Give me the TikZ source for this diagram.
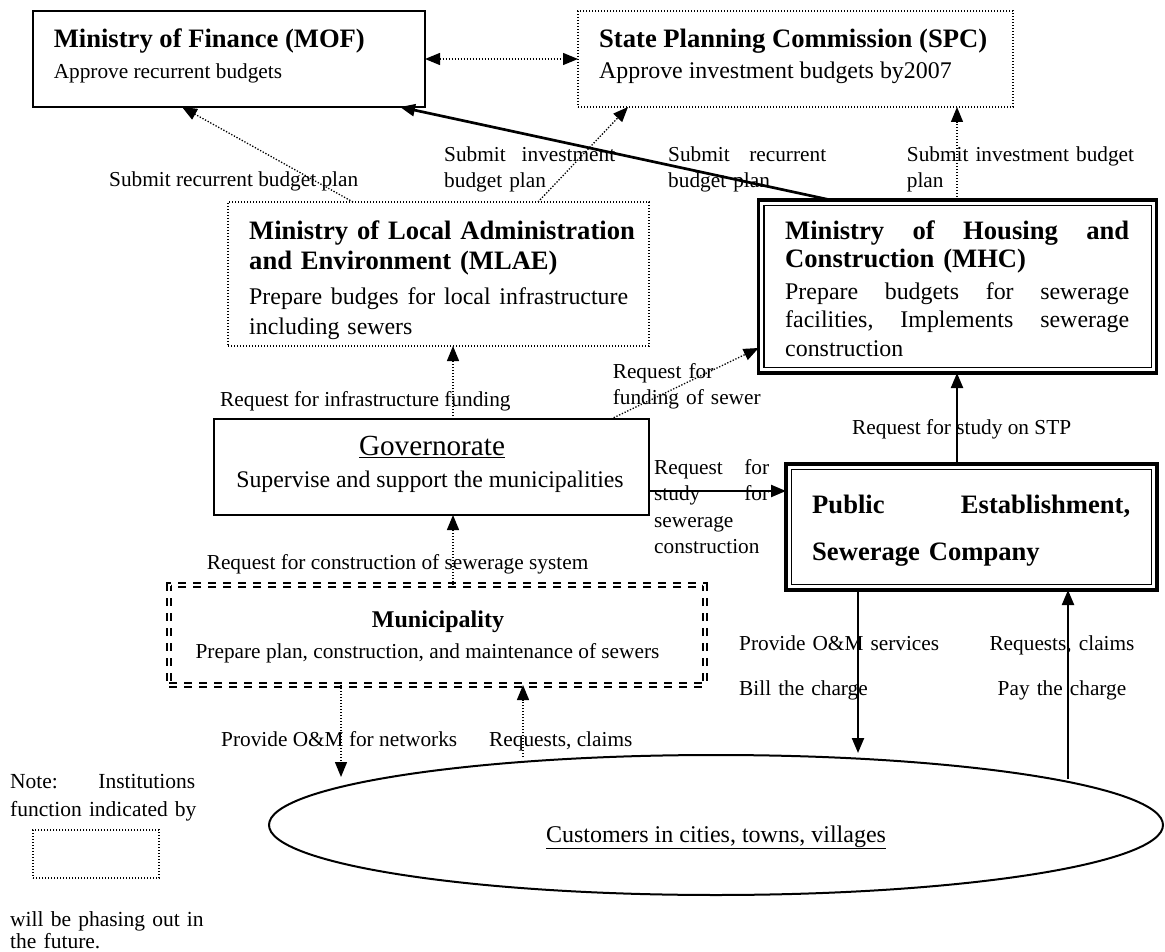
\documentclass[tikz,border=0pt]{standalone}
\usepackage{fontspec}
\setmainfont{Liberation Serif}
\usepackage{tikz}
\usetikzlibrary{arrows.meta,shapes.geometric}
\hyphenpenalty=10000

\begin{document}
\begin{tikzpicture}[x=1pt, y=-1pt,
    box/.style={rectangle, draw, line width=2pt, anchor=north west, inner sep=0pt, outer sep=0pt},
    dotbox/.style={box, line width=1.4pt, dash pattern=on 1.4pt off 1.6pt},
    thickbox/.style={box, line width=3.3pt},
    dashbox/.style={box, line width=1.7pt, double, double distance=2.3pt, dash pattern=on 8pt off 7pt},
    lbl/.style={inner sep=0pt, anchor=base west, font=\fontsize{21.3}{26.5}\selectfont},
    ttl/.style={inner sep=0pt, anchor=base west, font=\bfseries\fontsize{26.6}{30}\selectfont},
    arrow/.style={-{Triangle[length=15pt,width=12pt]}, line width=2.2pt},
    dotarrow/.style={-{Triangle[length=15pt,width=12pt]}, line width=1.3pt, dash pattern=on 1.3pt off 1.7pt}
]
\useasboundingbox (0,0) rectangle (1165,952);
% institutions
\node[box, minimum width=392.5pt, minimum height=96pt] (mof) at (32.5,11) {};
\node[dotbox, minimum width=435pt, minimum height=96pt] (spc) at (578,11) {};
\node[dotbox, minimum width=421pt, minimum height=144pt] (mlae) at (228,202) {};
\node[thickbox, minimum width=398.2pt, minimum height=173pt] (mhc) at (758.6,200) {};
\node[box, minimum width=435pt, minimum height=96pt] (gov) at (214,419) {};
\node[thickbox, minimum width=371pt, minimum height=126pt] (pe) at (786,464) {};
\node[dashbox, minimum width=536pt, minimum height=100pt] (muni) at (169,585) {};
\node[ellipse, draw, line width=2pt, minimum width=894pt, minimum height=140pt, inner sep=0pt] (cust) at (716,825) {};
\node[dotbox, minimum width=126pt, minimum height=48pt] (notebox) at (33,830) {};
\draw[line width=1.4pt] ([xshift=5.5pt,yshift=-5.5pt]mhc.north west) rectangle ([xshift=-5.5pt,yshift=5.5pt]mhc.south east);
\draw[line width=1.4pt] ([xshift=5.5pt,yshift=-5.5pt]pe.north west) rectangle ([xshift=-5.5pt,yshift=5.5pt]pe.south east);
% box texts
\node[ttl] (mofname) at (53.6,48) {Ministry of Finance (MOF)};
\node[lbl] (mofrole) at (53.6,78.4) {Approve recurrent budgets};
\node[ttl] (spcname) at (599,48) {State Planning Commission (SPC)};
\node[lbl, font=\fontsize{23.9}{28}\selectfont] (spcrole) at (599,79) {Approve investment budgets by2007};
\node[ttl, text width=400pt, align=left] (mlaename) at (249,240) {Ministry of Local Administration\\and Environment (MLAE)};
\node[lbl, text width=379pt, align=left, font=\fontsize{23.9}{30}\selectfont] (mlaerole) at (249,304) {Prepare\hfill budges\hfill for\hfill local\hfill infrastructure\\including sewers};
\node[ttl, text width=344pt, align=left, font=\bfseries\fontsize{26.6}{28}\selectfont] (mhcname) at (785,240) {Ministry\hfill of\hfill Housing\hfill and\\Construction (MHC)};
\node[lbl, text width=344pt, align=left, font=\fontsize{23.9}{28.5}\selectfont] (mhcrole) at (785,299) {Prepare\hfill budgets\hfill for\hfill sewerage\\facilities,\hfill Implements\hfill sewerage\\construction};
\node[inner sep=0pt, anchor=base, font=\fontsize{29.2}{34}\selectfont] (govname) at (432,455.8) {\underline{Governorate}};
\node[inner sep=0pt, anchor=base, font=\fontsize{23.8}{28}\selectfont] (govrole) at (430,487) {Supervise and support the municipalities};
\node[ttl, text width=318pt, align=left, font=\bfseries\fontsize{26.6}{47}\selectfont] (pename) at (812,513) {Public\hfill Establishment,\\Sewerage Company};
\node[ttl, anchor=base, font=\bfseries\fontsize{24}{28}\selectfont] (muniname) at (438,627) {Municipality};
\node[lbl, anchor=base] (munirole) at (427.5,658) {Prepare plan, construction, and maintenance of sewers};
\node[inner sep=0pt, anchor=base, font=\fontsize{24}{28}\selectfont] (custname) at (716,842) {\underline{Customers in cities, towns, villages}};
% flow labels
\node[lbl] (subrecmof) at (109,186.4) {Submit recurrent budget plan};
\node[lbl, text width=171pt, align=left] (subinvmlae) at (444,161.4) {Submit\hfill investment\\budget plan};
\node[lbl, text width=158pt, align=left] (subrecmhc) at (668,161.4) {Submit\hfill recurrent\\budget plan};
\node[lbl, text width=228pt, align=left] (subinvmhc) at (906.7,161.4) {Submit investment budget\\plan};
\node[lbl] (reqinfra) at (220,406.4) {Request for infrastructure funding};
\node[lbl, text width=150pt, align=left] (reqsewer) at (612.6,378.4) {Request for\\funding of sewer};
\node[lbl, text width=115pt, align=left] (reqstudy) at (654,474.4) {Request\hfill for\\study\hfill for\\sewerage\\construction};
\node[lbl] (reqstp) at (852,434.4) {Request for study on STP};
\node[lbl] (reqconst) at (206.6,569.4) {Request for construction of sewerage system};
\node[lbl] (omnet) at (221,746.4) {Provide O\&M for networks};
\node[lbl] (claimmuni) at (489,746.4) {Requests, claims};
\node[lbl, text width=210pt, align=left, font=\fontsize{21.3}{45}\selectfont] (omserv) at (739,650.4) {Provide O\&M services\\Bill the charge};
\node[lbl, anchor=base, text width=160pt, align=center, font=\fontsize{21.3}{45}\selectfont] (claimpe) at (1062,650.4) {Requests, claims\\Pay the charge};
\node[lbl, text width=230pt, align=left, font=\fontsize{21.5}{28}\selectfont] (notetext) at (10,788.4) {\hbox to 185pt{Note:\hfill Institutions}\\function indicated by};
\node[lbl, text width=230pt, align=left, font=\fontsize{21.5}{22}\selectfont] (notetail) at (10,926.4) {will be phasing out in\\the future.};
% flows
\coordinate (omend) at (341,777);
\coordinate (claimstart) at (523,757);
\coordinate (servend) at (858,753);
\coordinate (paystart) at (1068,779);
\draw[dotarrow, {Triangle[length=15pt,width=12pt]}-{Triangle[length=15pt,width=12pt]}] (mof) -- (spc);
\draw[dotarrow] ([xshift=125pt]mlae.north west) -- ([xshift=149.5pt]mof.south west);
\draw[dotarrow] ([xshift=310pt]mlae.north west) -- ([xshift=50pt]spc.south west);
\draw[arrow, line width=2.7pt] ([xshift=72pt]mhc.north west) -- ([xshift=-25pt]mof.south east);
\draw[dotarrow] ([xshift=198.4pt]mhc.north west) -- ([xshift=-56pt]spc.south east);
\draw[dotarrow] ([xshift=239pt]gov.north west) -- ([xshift=225pt]mlae.south west);
\draw[dotarrow] ([xshift=-38pt]gov.north east) -- ([yshift=-61.5pt]mhc.west);
\draw[arrow] ([yshift=-24pt]gov.east) -- ([yshift=-24pt]gov.east -| pe.west);
\draw[arrow] ([xshift=171pt]pe.north west) -- ([xshift=198.4pt]mhc.south west);
\draw[dotarrow] ([xshift=284pt]muni.north west) -- ([xshift=239pt]gov.south west);
\draw[dotarrow] ([xshift=172pt]muni.south west) -- (omend);
\draw[dotarrow] (claimstart) -- ([xshift=354pt]muni.south west);
\draw[arrow] ([xshift=72pt]pe.south west) -- (servend);
\draw[arrow] (paystart) -- ([xshift=282pt]pe.south west);
\end{tikzpicture}
\end{document}
